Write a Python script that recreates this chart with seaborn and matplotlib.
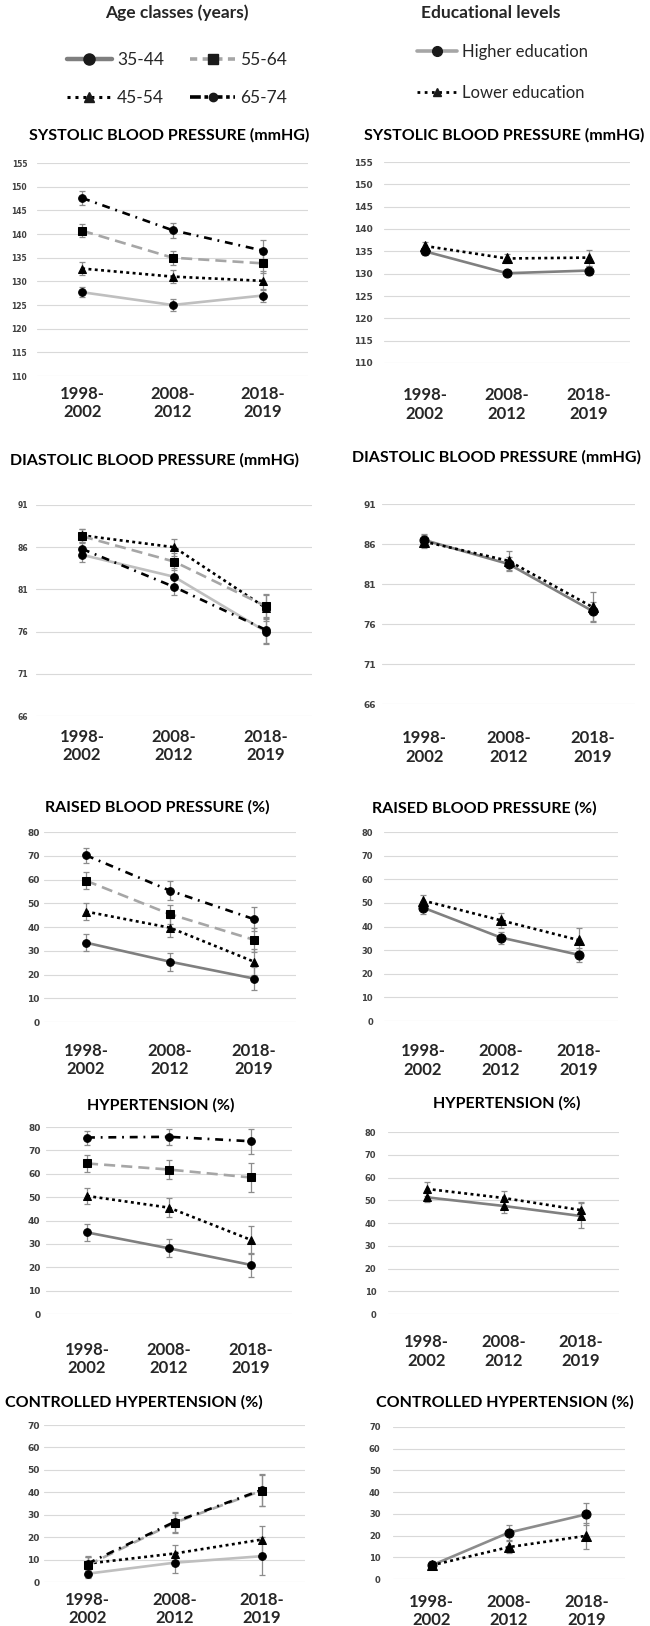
import numpy as np
import pandas as pd
import seaborn as sns
import matplotlib.pyplot as plt
from matplotlib.lines import Line2D

# Periods (x categories)
periods = ["1998-\n2002", "2008-\n2012", "2018-\n2019"]
age_classes = ["35-44", "45-54", "55-64", "65-74"]
edu_levels = ["Higher education", "Lower education"]

# Systolic blood pressure (mmHG), rows follow age_classes / edu_levels
sbp_age = [[127.7, 125.0, 127.0], [132.7, 131.0, 130.1], [140.7, 135.0, 133.8], [147.6, 140.8, 136.5]]
sbp_age_err = [[1.1, 1.2, 1.4], [1.4, 1.4, 2.0], [1.4, 1.5, 2.0], [1.5, 1.6, 2.2]]
sbp_edu = [[135.0, 130.1, 130.7], [136.2, 133.4, 133.6]]
sbp_edu_err = [[0.8, 0.6, 1.0], [0.8, 1.0, 1.8]]

# Diastolic blood pressure (mmHG)
dbp_age = [[85.1, 82.5, 76.0], [87.4, 86.0, 78.8], [87.3, 84.3, 79.0], [85.8, 81.3, 76.2]]
dbp_age_err = [[0.8, 1.0, 1.5], [0.8, 1.0, 1.5], [0.8, 1.0, 1.4], [0.8, 1.0, 1.5]]
dbp_edu = [[86.5, 83.5, 77.6], [86.3, 83.9, 78.1]]
dbp_edu_err = [[0.8, 0.9, 1.2], [0.8, 1.2, 1.9]]

# Raised blood pressure (%)
rbp_age = [[33.4, 25.4, 18.3], [46.5, 39.7, 25.4], [59.5, 45.4, 34.6], [70.2, 55.3, 43.3]]
rbp_age_err = [[3.5, 3.8, 4.8], [3.5, 4.0, 5.5], [3.5, 4.0, 5.0], [3.2, 4.0, 5.0]]
rbp_edu = [[48.0, 35.3, 28.0], [51.0, 42.6, 34.2]]
rbp_edu_err = [[2.8, 2.5, 3.0], [2.5, 3.2, 5.0]]

# Hypertension (%)
hyp_age = [[34.9, 28.1, 21.0], [50.5, 45.5, 31.7], [64.4, 61.8, 58.4], [75.5, 75.8, 73.9]]
hyp_age_err = [[3.5, 3.8, 5.0], [3.5, 4.0, 6.0], [3.5, 4.0, 6.0], [3.0, 3.5, 5.3]]
hyp_edu = [[51.3, 47.5, 43.1], [55.0, 51.0, 45.7]]
hyp_edu_err = [[2.0, 3.0, 5.5], [3.0, 3.2, 3.5]]

# Controlled hypertension (%)
chyp_age = [[3.7, 8.6, 11.5], [8.2, 12.7, 18.9], [7.5, 26.4, 40.7], [8.2, 26.8, 41.0]]
chyp_age_err = [[2.0, 4.5, 8.5], [3.0, 4.0, 6.0], [3.5, 4.5, 7.0], [3.5, 4.5, 7.0]]
chyp_edu = [[6.3, 21.4, 29.8], [6.3, 14.7, 19.9]]
chyp_edu_err = [[1.8, 3.5, 5.0], [1.5, 2.8, 6.0]]

sns.set_theme(style="white")
plt.rcParams["font.family"] = ["Lato", "DejaVu Sans"]

W, H = 650, 1626
fig = plt.figure(figsize=(W / 100, H / 100), dpi=100)

age_dashes = {"35-44": "", "45-54": (1.1, 1.3), "55-64": (4.2, 2.3), "65-74": (3, 2.2, 0.7, 2.2)}
age_markers = {"35-44": "o", "45-54": "^", "55-64": "s", "65-74": "o"}
edu_dashes = {"Higher education": "", "Lower education": (1.1, 1.3)}
edu_markers = {"Higher education": "o", "Lower education": "^"}


def long_frame(means, groups):
    rows = []
    for g, vals in zip(groups, means):
        for i, v in enumerate(vals):
            rows.append({"pos": i, "value": v, "group": g})
    return pd.DataFrame(rows)


def panel(rect, means, errs, groups, palette, dashes, markers, ms, ticks,
          title, title_xy, xpad, ysize, ypad):
    x0, x1, ytop, ybot = rect
    ax = fig.add_axes([x0 / W, 1 - ybot / H, (x1 - x0) / W, (ybot - ytop) / H])
    for vals, e in zip(means, errs):
        ax.errorbar(range(len(periods)), vals, yerr=e, fmt="none", ecolor="#8c8c8c",
                    elinewidth=0.9, capsize=2.5, capthick=0.9, zorder=1)
    df = long_frame(means, groups)
    sns.lineplot(data=df, x="pos", y="value", hue="group", style="group",
                 palette=palette, dashes=dashes, markers=markers, markersize=ms,
                 markerfacecolor="black", markeredgecolor="black", linewidth=1.9,
                 legend=False, ax=ax, sort=False, errorbar=None, zorder=2)
    ax.set_xlim(-0.5, len(periods) - 0.5)
    ax.set_ylim(ticks[0], ticks[-1])
    ax.set_yticks(ticks)
    ax.set_xticks(range(len(periods)))
    ax.set_xticklabels(periods, fontsize=12, fontweight="bold")
    ax.set_yticklabels([str(t) for t in ticks], fontsize=ysize, fontweight="bold",
                       family="DejaVu Sans", color="#404040")
    ax.tick_params(axis="x", length=0, pad=xpad)
    ax.tick_params(axis="y", length=0, pad=ypad)
    ax.grid(axis="y", color="#d9d9d9", lw=0.8)
    ax.set_axisbelow(True)
    for s in ax.spines.values():
        s.set_visible(False)
    ax.set_xlabel("")
    ax.set_ylabel("")
    fig.text(title_xy[0] / W, 1 - title_xy[1] / H, title, ha="center", va="center",
             fontsize=11.5, fontweight="bold", color="black")
    return ax


def age_pal(c):
    return {"35-44": c, "45-54": "black", "55-64": "#a6a6a6", "65-74": "black"}


def edu_pal(c):
    return {"Higher education": c, "Lower education": "black"}


sbp_ticks = list(range(110, 156, 5))
dbp_ticks = list(range(66, 92, 5))

# Left column: age classes
panel((37, 308, 163, 376), sbp_age, sbp_age_err, age_classes, age_pal("#bfbfbf"),
      age_dashes, age_markers, 5.5, sbp_ticks, "SYSTOLIC BLOOD PRESSURE (mmHG)",
      (169, 135), 7, 5.5, 7)
panel((36, 312, 505, 716), dbp_age, dbp_age_err, age_classes, age_pal("#bfbfbf"),
      age_dashes, age_markers, 5.5, dbp_ticks, "DIASTOLIC BLOOD PRESSURE (mmHG)",
      (155, 460), 9, 5.5, 6)
panel((44, 296, 832, 1022), rbp_age, rbp_age_err, age_classes, age_pal("#7f7f7f"),
      age_dashes, age_markers, 5.5, list(range(0, 81, 10)), "RAISED BLOOD PRESSURE (%)",
      (157, 807), 15, 6.5, 3)
panel((46, 292, 1127, 1314), hyp_age, hyp_age_err, age_classes, age_pal("#7f7f7f"),
      age_dashes, age_markers, 5.5, list(range(0, 81, 10)), "HYPERTENSION (%)",
      (161, 1105), 20, 6.5, 4)
panel((44, 305, 1425, 1582), chyp_age, chyp_age_err, age_classes, age_pal("#bfbfbf"),
      age_dashes, age_markers, 5.5, list(range(0, 71, 10)), "CONTROLLED HYPERTENSION (%)",
      (134, 1402), 7, 6.5, 3)

# Right column: educational levels
panel((384, 630, 162, 363), sbp_edu, sbp_edu_err, edu_levels, edu_pal("#808080"),
      edu_dashes, edu_markers, 6.5, sbp_ticks, "SYSTOLIC BLOOD PRESSURE (mmHG)",
      (504, 135), 17.5, 6.5, 8)
panel((382, 635, 504, 704), dbp_edu, dbp_edu_err, edu_levels, edu_pal("#808080"),
      edu_dashes, edu_markers, 6.5, dbp_ticks, "DIASTOLIC BLOOD PRESSURE (mmHG)",
      (497, 457), 19, 6.5, 4)
panel((384, 618, 832, 1021), rbp_edu, rbp_edu_err, edu_levels, edu_pal("#808080"),
      edu_dashes, edu_markers, 6.5, list(range(0, 81, 10)), "RAISED BLOOD PRESSURE (%)",
      (484, 808), 16, 6, 8)
panel((388, 619, 1132, 1314), hyp_edu, hyp_edu_err, edu_levels, edu_pal("#808080"),
      edu_dashes, {"Higher education": "^", "Lower education": "^"}, 5.5,
      list(range(0, 81, 10)), "HYPERTENSION (%)", (507, 1103), 14.5, 6, 8.5)
panel((393, 625, 1427, 1579), chyp_edu, chyp_edu_err, edu_levels, edu_pal("#8c8c8c"),
      edu_dashes, edu_markers, 6.5, list(range(0, 71, 10)), "CONTROLLED HYPERTENSION (%)",
      (505, 1402), 10.5, 6, 9)

# Legends
age_handles = [
    Line2D([], [], color="#7f7f7f", lw=3.2, marker="o", ms=8, mfc="k", mec="k"),
    Line2D([], [], color="black", lw=2.2, ls=(0, (1, 1.6)), marker="^", ms=7, mfc="k", mec="k"),
    Line2D([], [], color="#a6a6a6", lw=2.6, ls=(0, (2, 1.5)), marker="s", ms=7, mfc="k", mec="k"),
    Line2D([], [], color="black", lw=2.6, ls=(0, (3, 1, 1, 1)), marker="o", ms=6, mfc="k", mec="k"),
]
fig.text(177 / W, 1 - 13 / H, "Age classes (years)", ha="center", va="center",
         fontsize=12.5, fontweight="bold")
fig.legend(age_handles, age_classes, loc="center", bbox_to_anchor=(177 / W, 1 - 79 / H),
           ncol=2, frameon=False, fontsize=12.5, handlelength=2.6, handletextpad=0.3,
           columnspacing=1.5, labelspacing=1.25)

edu_handles = [
    Line2D([], [], color="#a6a6a6", lw=2.6, marker="o", ms=7, mfc="k", mec="k"),
    Line2D([], [], color="black", lw=2, ls=(0, (1, 1.6)), marker="^", ms=6, mfc="k", mec="k"),
]
fig.text(491 / W, 1 - 13 / H, "Educational levels", ha="center", va="center",
         fontsize=12.5, fontweight="bold")
fig.legend(edu_handles, edu_levels, loc="center", bbox_to_anchor=(502 / W, 1 - 72 / H),
           ncol=1, frameon=False, fontsize=12, handlelength=2.4, handletextpad=0.3,
           labelspacing=1.5)

plt.savefig("out.png", dpi=100)
